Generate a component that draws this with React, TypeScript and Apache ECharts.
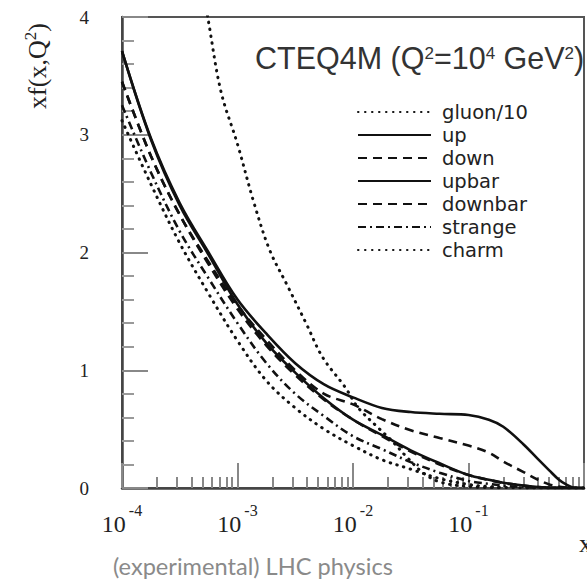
import React, { useEffect, useRef } from 'react';
import * as echarts from 'echarts';

// x grid shared by the quark curves
const xs = [1e-4, 1.78e-4, 3.16e-4, 5.62e-4, 1e-3, 1.78e-3, 3.16e-3, 5.62e-3, 0.01, 0.0178, 0.0316, 0.0562, 0.1, 0.15, 0.2, 0.3, 0.4, 0.5, 0.6, 0.7, 0.8, 1.0];
const upValues = [3.71, 2.97, 2.42, 2.0, 1.6, 1.31, 1.06, 0.88, 0.77, 0.68, 0.645, 0.63, 0.62, 0.58, 0.52, 0.37, 0.245, 0.15, 0.075, 0.03, 0.005, 0];
const downValues = [3.45, 2.82, 2.32, 1.92, 1.55, 1.26, 1.0, 0.8, 0.71, 0.585, 0.49, 0.425, 0.36, 0.3, 0.225, 0.135, 0.07, 0.03, 0.012, 0.004, 0.001, 0];
const upbarValues = [3.71, 2.96, 2.4, 1.98, 1.56, 1.23, 0.98, 0.76, 0.58, 0.45, 0.32, 0.21, 0.11, 0.07, 0.045, 0.02, 0.008, 0.003, 0.001, 0, 0, 0];
const downbarValues = [3.45, 2.82, 2.32, 1.9, 1.52, 1.21, 0.96, 0.75, 0.58, 0.44, 0.31, 0.2, 0.11, 0.068, 0.043, 0.02, 0.008, 0.003, 0.001, 0, 0, 0];
const strangeValues = [3.25, 2.68, 2.18, 1.78, 1.4, 1.06, 0.8, 0.61, 0.44, 0.33, 0.22, 0.13, 0.06, 0.035, 0.02, 0.008, 0.003, 0.001, 0, 0, 0, 0];
const charmValues = [3.12, 2.58, 2.08, 1.65, 1.25, 0.91, 0.68, 0.5, 0.36, 0.24, 0.16, 0.08, 0.03, 0.012, 0.005, 0.001, 0, 0, 0, 0, 0, 0];

// gluon/10 has its own sampling
const gluonX = [5.0e-4, 5.57e-4, 7.18e-4, 1e-3, 1.39e-3, 1.9e-3, 2.7e-3, 3.92e-3, 5.46e-3, 8.55e-3, 0.011, 0.0163, 0.0214, 0.0292, 0.0407, 0.0568, 0.1, 0.2];
const gluonValues = [4.25, 3.98, 3.37, 2.92, 2.42, 2.02, 1.72, 1.4, 1.11, 0.856, 0.686, 0.517, 0.407, 0.263, 0.127, 0.05, 0.012, 0.002];

const xTickExponents = [-4, -3, -2, -1];
const yTickLabels = ['0', '1', '2', '3', '4'];
const seriesNames = ['gluon/10', 'up', 'down', 'upbar', 'downbar', 'strange', 'charm'];

const SERIF = 'Liberation Serif';
const SANS = 'Liberation Sans';

export default function App() {
  const ref = useRef<HTMLDivElement>(null);

  useEffect(() => {
    document.body.style.margin = '0';
    const chart = echarts.init(ref.current as HTMLDivElement, null, { renderer: 'svg' });

    const minorTicks: number[] = [];
    for (let e = -4; e < 0; e++) {
      for (let k = 2; k <= 9; k++) minorTicks.push(parseFloat((k * Math.pow(10, e)).toPrecision(3)));
    }

    const pair = (xa: number[], ya: number[]) => xa.map((x, i) => [x, ya[i]]);
    const ink = '#111';
    const dotted = { type: [0.5, 6.5], cap: 'round', width: 3, color: ink };
    const solid = { type: 'solid', width: 2.6, color: ink };
    const dashed = { type: [9, 6], width: 2.6, color: ink };
    const dashDot = { type: [8, 4, 2, 4], width: 2.6, color: ink };

    const styles = [dotted, solid, dashed, solid, dashed, dashDot, dotted];
    const datas = [
      pair(gluonX, gluonValues),
      pair(xs, upValues),
      pair(xs, downValues),
      pair(xs, upbarValues),
      pair(xs, downbarValues),
      pair(xs, strangeValues),
      pair(xs, charmValues),
    ];

    const series = seriesNames.map((name, i) => ({
      name,
      type: 'line',
      data: datas[i],
      symbol: 'none',
      showSymbol: false,
      smooth: 0.35,
      clip: true,
      color: ink,
      lineStyle: styles[i],
      xAxisIndex: 0,
      yAxisIndex: 0,
    }));

    const option: any = {
      animation: false,
      textStyle: { fontFamily: SERIF },
      grid: {
        left: 122,
        top: 17,
        width: 472,
        height: 471,
        show: true,
        borderColor: '#555',
        borderWidth: 2,
        backgroundColor: 'transparent',
      },
      xAxis: [
        {
          type: 'log',
          logBase: 10,
          min: 1e-4,
          max: 1,
          position: 'bottom',
          axisLine: { show: true, onZero: false, lineStyle: { color: '#444', width: 2.5 } },
          axisTick: { show: true, inside: true, length: 25, lineStyle: { color: '#888', width: 2 } },
          axisLabel: {
            margin: 14,
            formatter: (v: number) => {
              const e = Math.round(Math.log10(v));
              if (xTickExponents.indexOf(e) < 0) return '';
              return '{b|10}{s|' + e + '}';
            },
            rich: {
              b: { fontSize: 24, fontFamily: SERIF, color: '#222', lineHeight: 44 },
              s: { fontSize: 16, fontFamily: SERIF, color: '#222', lineHeight: 16, verticalAlign: 'top', padding: [0, 0, 0, 3] },
            },
          },
          splitLine: { show: false },
          minorTick: { show: false },
          minorSplitLine: { show: false },
        },
        {
          type: 'log',
          logBase: 10,
          min: 1e-4,
          max: 1,
          position: 'bottom',
          axisLine: { show: false, onZero: false },
          axisTick: { show: true, inside: true, length: 11, customValues: minorTicks, lineStyle: { color: '#888', width: 2 } },
          axisLabel: { show: false },
          splitLine: { show: false },
        },
      ],
      yAxis: {
        type: 'value',
        min: 0,
        max: 4,
        interval: 1,
        axisLine: { show: true, onZero: false, lineStyle: { color: '#444', width: 2.5 } },
        axisTick: { show: true, inside: true, length: 26, lineStyle: { color: '#888', width: 2 } },
        minorTick: { show: true, splitNumber: 5, length: 12, lineStyle: { color: '#999', width: 2 } },
        axisLabel: {
          margin: 33,
          fontSize: 19,
          color: '#222',
          fontFamily: SERIF,
          formatter: (v: number) => yTickLabels[Math.round(v)] ?? '',
        },
        splitLine: { show: false },
        minorSplitLine: { show: false },
      },
      legend: {
        orient: 'vertical',
        left: 352,
        top: 97,
        itemWidth: 73,
        itemHeight: 20,
        itemGap: 3,
        data: seriesNames,
        itemStyle: { opacity: 0 },
        textStyle: { fontFamily: 'DejaVu Sans', fontSize: 19.5, color: '#222', lineHeight: 20, padding: [0, 0, 0, 6] },
      },
      graphic: [
        {
          type: 'text',
          x: 37,
          y: 66,
          rotation: Math.PI / 2,
          style: {
            text: '{a|xf(x,Q}{s|2}{a|)}',
            align: 'center',
            verticalAlign: 'middle',
            rich: {
              a: { fontSize: 26, fontFamily: SERIF, fill: '#222', lineHeight: 30 },
              s: { fontSize: 17, fontFamily: SERIF, fill: '#222', lineHeight: 17, verticalAlign: 'top' },
            },
          },
        },
        {
          type: 'text',
          x: 255,
          y: 58,
          style: {
            text: '{a|CTEQ4M (Q}{s|2}{a|=10}{s|4}{a| GeV}{s|2}{a|)}',
            align: 'left',
            verticalAlign: 'middle',
            rich: {
              a: { fontSize: 30.5, fontFamily: SANS, fill: '#333', lineHeight: 26 },
              s: { fontSize: 17, fontFamily: SANS, fill: '#333', lineHeight: 17, verticalAlign: 'top' },
            },
          },
        },
        {
          type: 'text',
          x: 579,
          y: 543,
          style: { text: 'x', font: '26px "Liberation Serif"', fill: '#222', verticalAlign: 'middle' },
        },
        {
          type: 'text',
          x: 113,
          y: 566,
          style: { text: '(experimental) LHC physics', font: '23.6px Lato', fill: '#8a8a8a', verticalAlign: 'middle' },
        },
      ],
      series,
    };

    chart.setOption(option);
    return () => chart.dispose();
  }, []);

  return <div ref={ref} style={{ width: 587, height: 582 }} />;
}
